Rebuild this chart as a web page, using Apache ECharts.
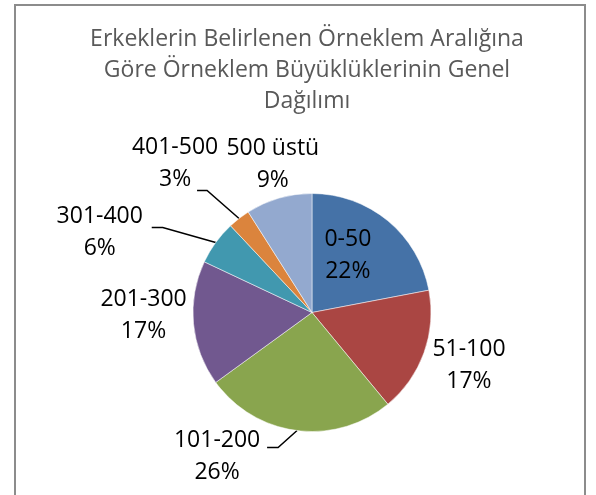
<!DOCTYPE html>
<html>
<head>
<meta charset="utf-8">
<script src="https://cdn.jsdelivr.net/npm/echarts@6/dist/echarts.min.js"></script>
<style>
  html, body { margin: 0; padding: 0; background: #fff; }
  #main { width: 596px; height: 495px; }
</style>
</head>
<body>
<div id="main"></div>
<script>
var titleText = 'Erkeklerin Belirlenen Örneklem Aralığına\nGöre Örneklem Büyüklüklerinin Genel\nDağılımı';
var categories = ['0-50', '51-100', '101-200', '201-300', '301-400', '401-500', '500 üstü'];
var shares = [22, 17, 26, 17, 6, 3, 9];
var colors = ['#4572A7', '#AA4643', '#89A54E', '#71588F', '#4198AF', '#DB843D', '#93A9CF'];

// label centre, offset from the point on the rim at the slice's middle angle
var labelOffsets = [[-40, 35], [45, 13], [-80, 26], [-50, -8], [-116, -10], [-64, -55], [-6, -34]];
// leader lines: elbow and end, offsets from the same rim point (null = no line)
var leaders = [null, null, [[-19, 17], [-30, 17]], null, [[-53, -15], [-64, -15]], [[-32, -28], [-42, -28]], null];

var cx = 312, cy = 312.5, r = 119;
var total = shares.reduce(function (a, b) { return a + b; }, 0);

function rimPoint(i) {
  var before = 0;
  for (var k = 0; k < i; k++) before += shares[k];
  var mid = (before + shares[i] / 2) / total * Math.PI * 2;
  return [cx + r * Math.sin(mid), cy - r * Math.cos(mid)];
}

var chart = echarts.init(document.getElementById('main'));
chart.setOption({
  animation: false,
  title: {
    text: titleText,
    left: 307,
    top: 24,
    padding: 0,
    textAlign: 'center',
    textStyle: {
      fontFamily: 'Open Sans',
      fontSize: 23,
      fontWeight: 'normal',
      color: '#595959',
      lineHeight: 31
    }
  },
  graphic: [{
    type: 'polyline',
    shape: { points: [[15, 500], [15, 5], [585, 5], [585, 500]] },
    style: { stroke: '#8c8c8c', lineWidth: 2, fill: null }
  }],
  series: [{
    type: 'pie',
    center: [cx, cy],
    radius: r,
    startAngle: 90,
    clockwise: true,
    itemStyle: { borderColor: '#fff', borderWidth: 0.5 },
    label: {
      show: true,
      formatter: function (p) { return p.name + '\n' + Math.round(p.percent) + '%'; },
      fontFamily: 'Open Sans',
      fontSize: 23,
      lineHeight: 32,
      color: '#000'
    },
    labelLine: {
      show: true,
      lineStyle: { color: '#000', width: 1.5 }
    },
    labelLayout: function (p) {
      var i = p.dataIndex;
      var rim = rimPoint(i);
      var o = labelOffsets[i];
      var out = {
        x: rim[0] + o[0],
        y: rim[1] + o[1],
        align: 'center',
        verticalAlign: 'middle'
      };
      if (leaders[i]) {
        out.labelLinePoints = [rim,
          [rim[0] + leaders[i][0][0], rim[1] + leaders[i][0][1]],
          [rim[0] + leaders[i][1][0], rim[1] + leaders[i][1][1]]];
      }
      return out;
    },
    data: categories.map(function (c, i) {
      return {
        name: c,
        value: shares[i],
        itemStyle: { color: colors[i] },
        labelLine: { show: !!leaders[i] }
      };
    })
  }]
});
</script>
</body>
</html>
